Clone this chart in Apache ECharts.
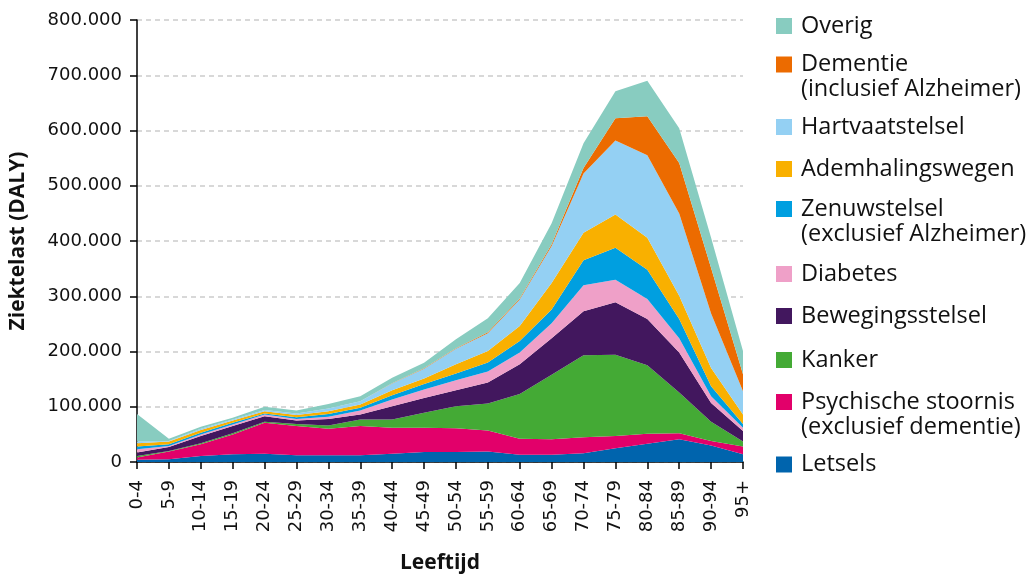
<!DOCTYPE html>
<html>
<head>
<meta charset="utf-8">
<script src="https://cdn.jsdelivr.net/npm/echarts@6/dist/echarts.min.js"></script>
<style>html,body{margin:0;padding:0;background:#fff}#c{width:1035px;height:575px}</style>
</head>
<body>
<div id="c"></div>
<script>
const categories = ['0-4','5-9','10-14','15-19','20-24','25-29','30-34','35-39','40-44','45-49','50-54','55-59','60-64','65-69','70-74','75-79','80-84','85-89','90-94','95+'];
const yTicks = [0,100000,200000,300000,400000,500000,600000,700000,800000];

const letsels   = [4000,5000,11000,14000,15000,12000,12000,12000,15000,18000,18000,19000,13000,13000,16000,25000,33000,41000,30000,14000];
const psychisch = [4000,14000,21000,36000,56000,53000,48000,53000,47000,44000,43000,38000,29000,28000,29000,22000,18000,11000,8000,14000];
const kanker    = [3000,1000,2000,2000,2000,4000,6000,12000,15000,27000,40000,49000,81000,117000,148000,147000,124000,74000,35000,9000];
const beweging  = [6000,7000,13000,13000,10000,6000,12000,9000,24000,27000,29000,38000,54000,66000,80000,95000,84000,72000,34000,19000];
const diabetes  = [6000,2000,3000,3000,3000,3000,4000,7000,12000,15000,18000,20000,21000,27000,47000,41000,36000,26000,12000,6000];
const zenuw     = [5000,3000,3000,3000,2000,3000,5000,5000,8000,10000,12000,16000,21000,25000,45000,58000,53000,35000,18000,7000];
const adem      = [6000,5000,5000,4000,4000,4000,5000,6000,9000,10000,17000,21000,27000,48000,50000,60000,58000,42000,33000,17000];
const hart      = [3000,1000,2000,2000,2000,3000,5000,6000,12000,18000,28000,32000,48000,67000,107000,134000,149000,149000,99000,42000];
const dementie  = [0,0,0,0,0,0,0,0,500,500,1000,2000,2000,3000,10000,40000,71000,91000,82000,31000];
const overig    = [50000,4000,4000,3000,6000,5000,8000,9000,10000,10000,16000,25000,28000,38000,45000,49000,64000,63000,55000,42000];

const seriesNames = [
  'Letsels',
  'Psychische stoornis\n(exclusief dementie)',
  'Kanker',
  'Bewegingsstelsel',
  'Diabetes',
  'Zenuwstelsel\n(exclusief Alzheimer)',
  'Ademhalingswegen',
  'Hartvaatstelsel',
  'Dementie\n(inclusief Alzheimer)',
  'Overig'
];
const seriesData = [letsels, psychisch, kanker, beweging, diabetes, zenuw, adem, hart, dementie, overig];
const colors = ['#0064ad','#e2006a','#44aa35','#42175e','#efa0c8','#009fe0','#f9b000','#94d0f3','#ec6b00','#88ccc0'];

// legend layout (top to bottom: Overig ... Letsels), icon centre y
const legendCenters = [26, 64.5, 127, 169, 209, 274, 316, 360, 402, 464.5];

function fmt(v){ return String(v).replace(/\B(?=(\d{3})+(?!\d))/g, '.'); }

const legendOrder = seriesNames.slice().reverse();
const legends = legendOrder.map((name, i) => {
  const two = name.indexOf('\n') >= 0;
  return {
    orient: 'vertical',
    left: 776,
    top: legendCenters[i] - 8 - (two ? 29.5 : 4.5),
    padding: 0,
    itemWidth: 16,
    itemHeight: 16,
    icon: 'rect',
    data: [name],
    formatter: n => (two ? '\n' + n : n),
    textStyle: {
      fontFamily: 'Open Sans',
      fontSize: 23.5,
      lineHeight: 25,
      color: '#111',
      padding: [0, 0, 0, 4],
      backgroundColor: 'rgba(0,0,0,0)'
    }
  };
});

const chart = echarts.init(document.getElementById('c'));
chart.setOption({
  animation: false,
  color: colors,
  legend: legends,
  grid: { left: 137, right: 292, top: 20, bottom: 113, containLabel: false, outerBoundsMode: 'none' },
  xAxis: {
    type: 'category',
    data: categories,
    boundaryGap: false,
    name: 'Leeftijd',
    nameLocation: 'middle',
    nameGap: 91,
    nameTextStyle: { fontFamily: 'Open Sans', fontWeight: 'bold', fontSize: 21, color: '#111' },
    axisLine: { lineStyle: { color: '#000', width: 1.5 } },
    axisTick: { show: true, length: 7, lineStyle: { color: '#000', width: 1.5 }, interval: 0 },
    axisLabel: { rotate: 90, interval: 0, margin: 18, fontFamily: 'DejaVu Sans', fontSize: 18, color: '#111' },
    splitLine: { show: false }
  },
  yAxis: {
    type: 'value',
    min: yTicks[0],
    max: yTicks[yTicks.length - 1],
    interval: yTicks[1] - yTicks[0],
    name: 'Ziektelast (DALY)',
    nameLocation: 'middle',
    nameGap: 108,
    nameTextStyle: { fontFamily: 'Open Sans', fontWeight: 'bold', fontSize: 21, color: '#111' },
    axisLine: { show: true, lineStyle: { color: '#000', width: 1.5 } },
    axisTick: { show: true, length: 7, lineStyle: { color: '#000', width: 1.5 } },
    axisLabel: { margin: 15, fontFamily: 'DejaVu Sans', fontSize: 18, color: '#111', formatter: v => fmt(v) },
    splitLine: { show: true, lineStyle: { color: '#cccccc', width: 1.5, type: [5, 4] } }
  },
  series: seriesNames.map((name, i) => ({
    name: name,
    type: 'line',
    stack: 'total',
    data: seriesData[i],
    showSymbol: false,
    symbol: 'none',
    lineStyle: { width: 0 },
    areaStyle: { opacity: 1, color: colors[i] },
    itemStyle: { color: colors[i] },
    emphasis: { disabled: true },
    z: 2
  }))
});
</script>
</body>
</html>
